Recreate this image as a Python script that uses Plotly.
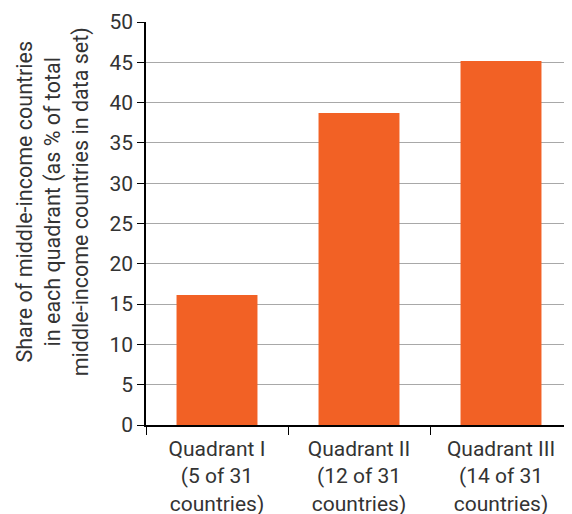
import plotly.graph_objects as go

categories = ["Quadrant I<br>(5 of 31<br>countries)",
              "Quadrant II<br>(12 of 31<br>countries)",
              "Quadrant III<br>(14 of 31<br>countries)"]
shares = [16.13, 38.71, 45.16]
y_ticks = [0, 5, 10, 15, 20, 25, 30, 35, 40, 45, 50]
y_title = "Share of middle-income countries<br>in each quadrant (as % of total<br>middle-income countries in data set)"

fig = go.Figure(go.Bar(x=categories, y=shares, marker_color="#F26125",
                       marker_line_width=0))

font = dict(family="Roboto", size=21, color="#333333")
fig.update_layout(
    width=564, height=506,
    margin=dict(l=138, r=0, t=14, b=89, autoexpand=False),
    paper_bgcolor="white", plot_bgcolor="white",
    bargap=0.43,
    font=font,
    showlegend=False,
)
fig.update_xaxes(
    showline=True, linecolor="black", linewidth=1.5,
    ticks="outside", tickson="boundaries", ticklen=8, tickcolor="black",
    tickfont=font, showgrid=False, ticklabelstandoff=4, automargin=False,
)
fig.update_yaxes(
    range=[0, 50], tickvals=y_ticks, showline=True, linecolor="black", linewidth=1.5,
    ticks="outside", ticklen=7, tickcolor="black", tickfont=font,
    showgrid=True, gridcolor="#a8a8a8", gridwidth=1, zeroline=False, automargin=False,
)
fig.add_annotation(
    text=y_title, textangle=-90, showarrow=False,
    xref="paper", yref="paper", x=-0.218, y=0.553,
    xanchor="center", yanchor="middle",
    font=dict(family="Roboto", size=21.5, color="#333333"),
)
fig.write_html("out.html")
